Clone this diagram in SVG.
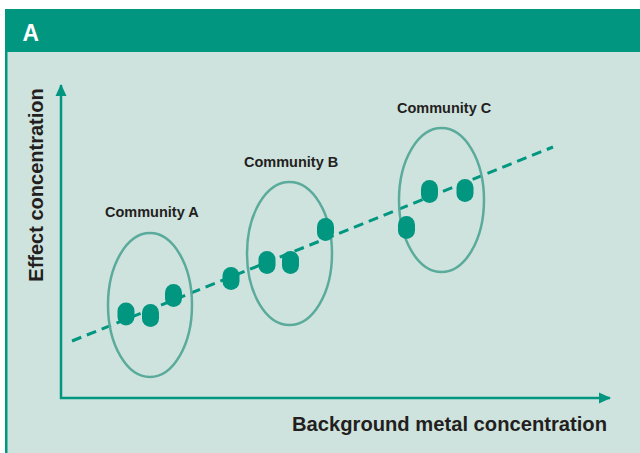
<svg xmlns="http://www.w3.org/2000/svg" width="640" height="453" viewBox="0 0 640 453">
<defs>
<style>
.lbl{font-family:"Liberation Sans",Arial,sans-serif;font-weight:bold;fill:#231f20}
.com{font-size:14.5px}
.ax{font-size:20px}
.axis{stroke:#009680;stroke-width:2.5;fill:none}
.ring{fill:none;stroke:#5aab9b;stroke-width:2.5}
.dot{fill:#009680}
</style>
<marker id="arr" markerWidth="12" markerHeight="12" viewBox="0 0 12 12" refX="11" refY="6" orient="auto" markerUnits="userSpaceOnUse">
<path d="M0,0.5 L12,6 L0,11.5 Z" fill="#009680"/>
</marker>
</defs>
<rect x="0" y="0" width="640" height="453" fill="#ffffff"/>
<rect x="5" y="9" width="635" height="444" fill="#009680"/>
<rect x="7.5" y="52" width="632.5" height="401" fill="#cfe3de"/>
<text x="22.5" y="41" font-family="Liberation Sans,Arial,sans-serif" font-weight="bold" font-size="24" fill="#ffffff" textLength="16.5" lengthAdjust="spacingAndGlyphs">A</text>

<g id="connectors">
<line class="axis" x1="61" y1="399" x2="61" y2="85" marker-end="url(#arr)"/>
<line class="axis" x1="60" y1="398" x2="610" y2="398" marker-end="url(#arr)"/>
<line x1="72" y1="341" x2="553" y2="147" stroke="#009680" stroke-width="3" stroke-dasharray="10 6"/>
</g>

<g id="axis-labels">
<text class="lbl ax" x="0" y="0" text-anchor="middle" transform="translate(43,185) rotate(-90)">Effect concentration</text>
<text class="lbl ax" x="607" y="431" text-anchor="end" textLength="315" lengthAdjust="spacingAndGlyphs">Background metal concentration</text>
</g>

<g id="community-a">
<ellipse class="ring" cx="150" cy="305" rx="42" ry="72"/>
<rect class="dot" x="117.5" y="302.5" width="17" height="23" rx="8.5"/>
<rect class="dot" x="142" y="304" width="17" height="23" rx="8.5"/>
<rect class="dot" x="165" y="284" width="17" height="23" rx="8.5"/>
<text class="lbl com" x="105" y="217">Community A</text>
</g>

<g id="between">
<rect class="dot" x="222.5" y="267" width="17" height="23" rx="8.5"/>
</g>

<g id="community-b">
<ellipse class="ring" cx="289.5" cy="253.5" rx="42.5" ry="71.5"/>
<rect class="dot" x="258.5" y="251" width="17" height="23" rx="8.5"/>
<rect class="dot" x="282" y="251" width="17" height="23" rx="8.5"/>
<rect class="dot" x="317" y="218" width="17" height="23" rx="8.5"/>
<text class="lbl com" x="244" y="167">Community B</text>
</g>

<g id="community-c">
<ellipse class="ring" cx="441.5" cy="200" rx="42.5" ry="72"/>
<rect class="dot" x="398" y="216" width="17" height="23" rx="8.5"/>
<rect class="dot" x="421" y="180" width="17" height="23" rx="8.5"/>
<rect class="dot" x="456.5" y="179" width="17" height="23" rx="8.5"/>
<text class="lbl com" x="397" y="113">Community C</text>
</g>
</svg>
